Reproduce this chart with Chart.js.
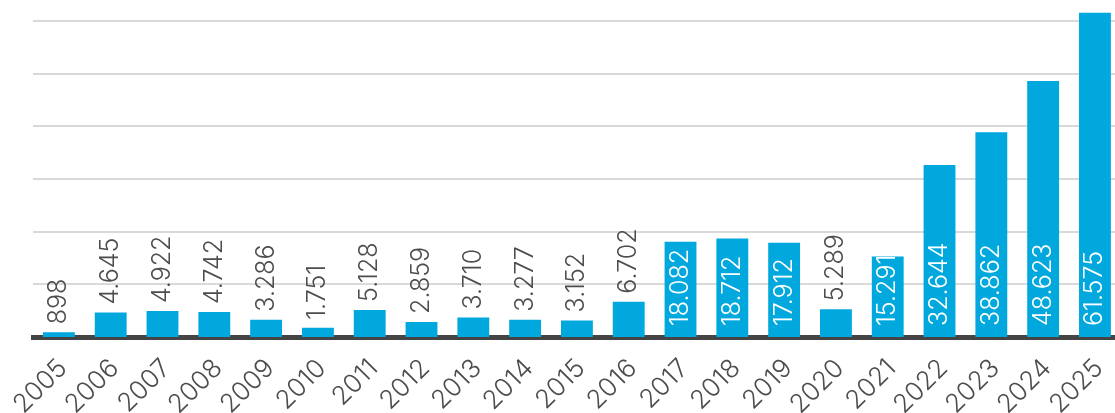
<!DOCTYPE html>
<html>
<head>
<meta charset="utf-8">
<script src="https://cdn.jsdelivr.net/npm/chart.js@4.4.1/dist/chart.umd.min.js"></script>
<style>
  html, body { margin: 0; padding: 0; background: #fff; overflow: hidden; }
  #wrap { position: relative; width: 1125px; height: 413px; }
</style>
</head>
<body>
<div id="wrap"><canvas id="chart"></canvas></div>
<script>
// 年別の値
const years = ['2005', '2006', '2007', '2008', '2009', '2010', '2011', '2012', '2013', '2014',
  '2015', '2016', '2017', '2018', '2019', '2020', '2021', '2022', '2023', '2024', '2025'];
const values = [898, 4645, 4922, 4742, 3286, 1751, 5128, 2859, 3710, 3277,
  3152, 6702, 18082, 18712, 17912, 5289, 15291, 32644, 38862, 48623, 61575];
// 横グリッド線の位置
const gridSteps = [10000, 20000, 30000, 40000, 50000, 60000];

const COLORS = {
  bar: '#00a8de',
  grid: '#d9d9d9',
  axis: '#444444',
  text: '#4d4d4d',
};
const FONT = "Inter, 'Open Sans', sans-serif";

// 1.234 形式（ドイツ式の桁区切り）
const fmt = (v) => String(v).replace(/\B(?=(\d{3})+(?!\d))/g, '.');

// 縦書きの値ラベル（高いバーは内側に白、低いバーは上に灰色）
const barLabels = {
  id: 'barLabels',
  afterDatasetsDraw(chart) {
    const ctx = chart.ctx;
    const bottom = chart.chartArea.bottom;
    const meta = chart.getDatasetMeta(0);
    ctx.save();
    ctx.font = `300 25px ${FONT}`;
    ctx.textBaseline = 'middle';
    ctx.textAlign = 'left';
    meta.data.forEach((bar, i) => {
      const text = fmt(values[i]);
      const inside = bottom - bar.y > 60;
      const start = inside ? bottom - 11 : bar.y - 8;
      ctx.save();
      ctx.translate(bar.x, start);
      ctx.rotate(-Math.PI / 2);
      ctx.fillStyle = inside ? '#ffffff' : COLORS.text;
      ctx.fillText(text, 0, 0);
      ctx.restore();
    });
    ctx.restore();
  },
};

new Chart(document.getElementById('chart'), {
  type: 'bar',
  data: {
    labels: years,
    datasets: [{
      data: values,
      backgroundColor: COLORS.bar,
      borderWidth: 0,
      barPercentage: 0.615,
      categoryPercentage: 1,
    }],
  },
  options: {
    responsive: true,
    maintainAspectRatio: false,
    animation: false,
    layout: { padding: 0 },
    plugins: {
      legend: { display: false },
      tooltip: { enabled: false },
    },
    scales: {
      x: {
        z: 1,
        grid: { display: false },
        border: { display: true, color: COLORS.axis, width: 5 },
        ticks: {
          color: COLORS.text,
          font: { family: FONT, size: 26, weight: '300' },
          minRotation: 45,
          maxRotation: 45,
          padding: 8,
          labelOffset: 4,
        },
        afterFit: (scale) => { scale.height = 76; },
      },
      y: {
        min: 0,
        max: 64000,
        ticks: { display: false },
        border: { display: false },
        grid: { drawTicks: false, lineWidth: 2, color: COLORS.grid },
        afterBuildTicks: (scale) => { scale.ticks = gridSteps.map((v) => ({ value: v })); },
        afterFit: (scale) => { scale.width = 33; },
      },
    },
  },
  plugins: [barLabels],
});
</script>
</body>
</html>
